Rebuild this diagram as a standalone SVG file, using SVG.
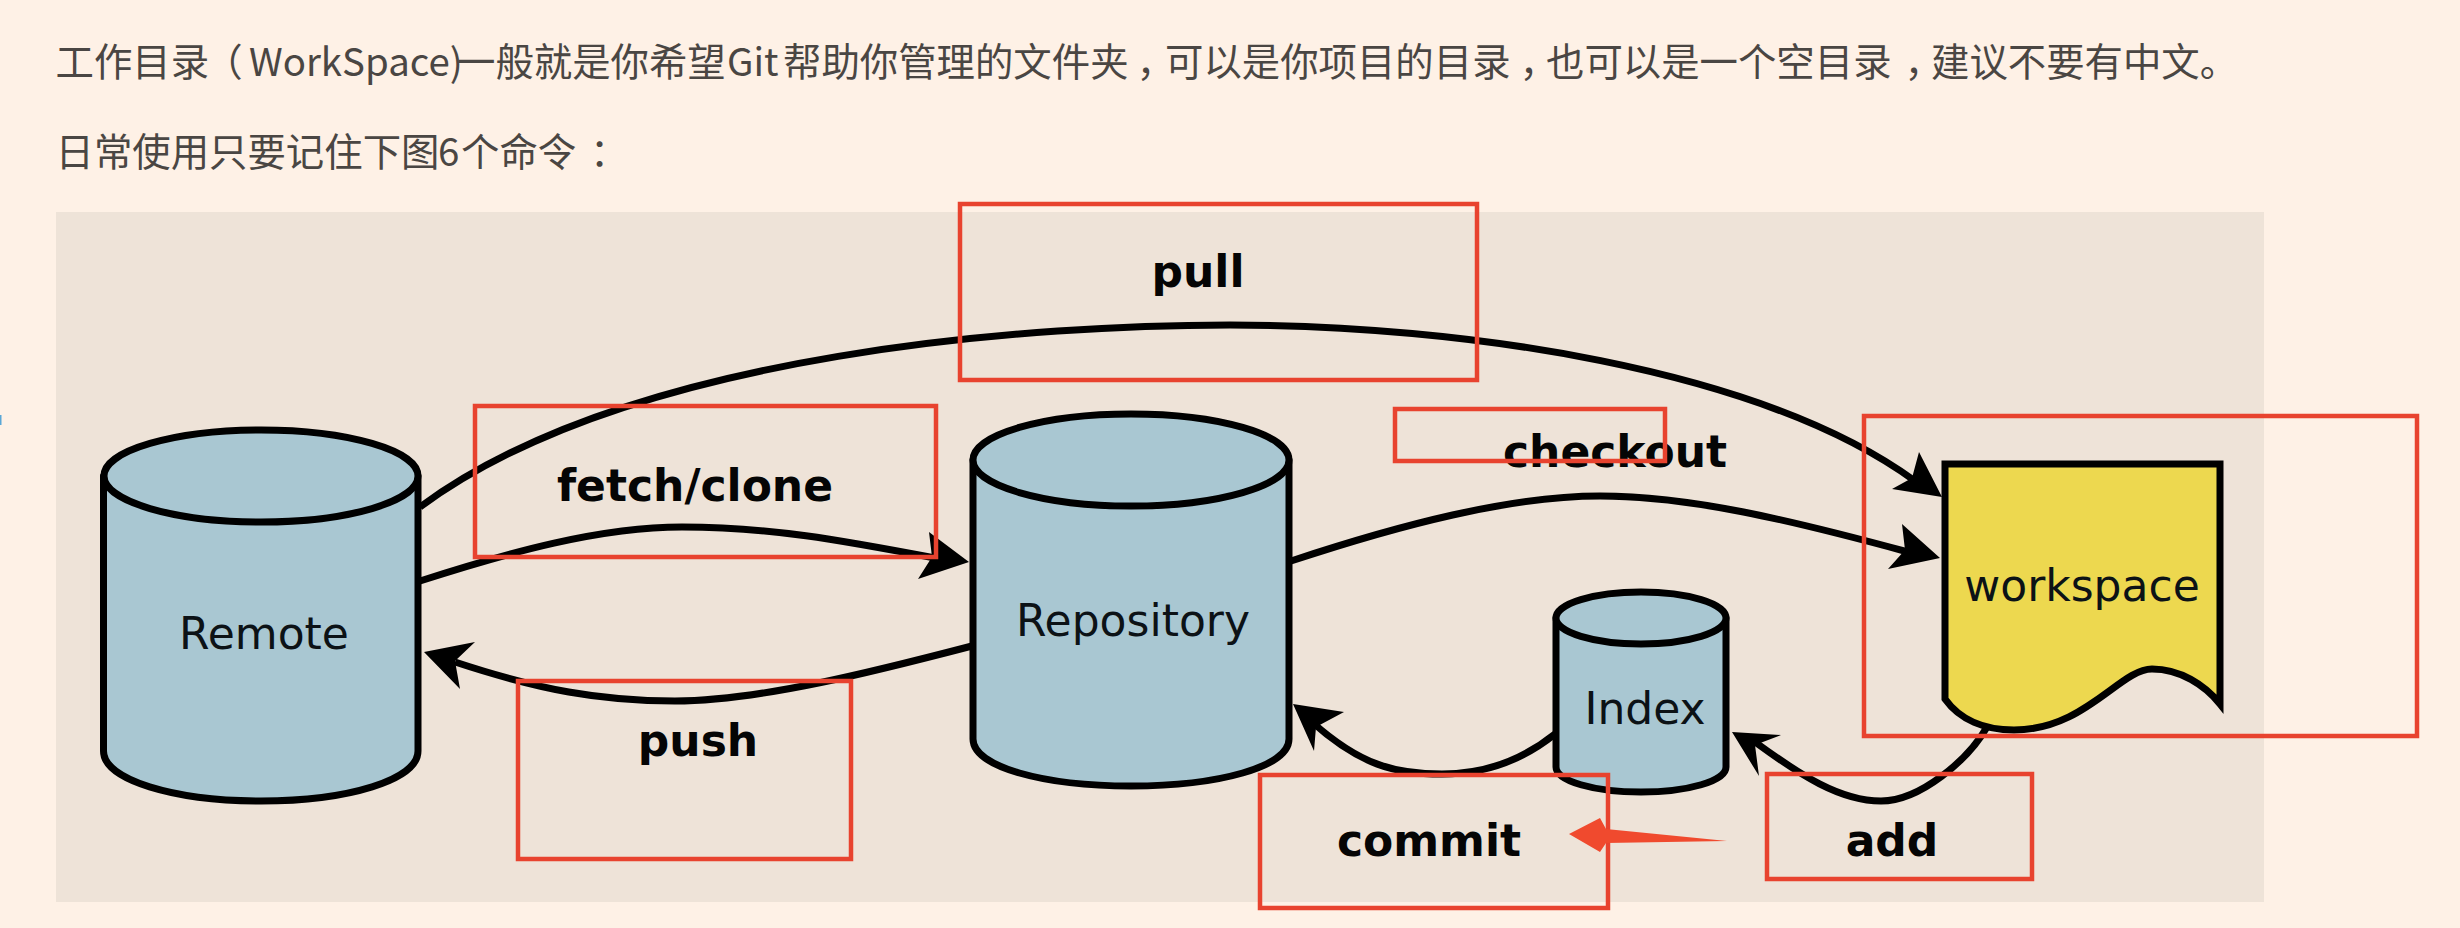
<svg xmlns="http://www.w3.org/2000/svg" width="2460" height="928" viewBox="0 0 2460 928">
<style>
.para{font-family:"Noto Sans CJK SC","Noto Sans",sans-serif;font-size:38.4px;fill:#4a4643}
.p{font-feature-settings:"palt"}
.lbl{font-family:"DejaVu Sans",sans-serif;font-size:44px;fill:#0c1216}
.cmd{font-family:"DejaVu Sans",sans-serif;font-size:44px;font-weight:700;fill:#050505}
.body{fill:#a9c7d2;stroke:#000;stroke-width:7;stroke-linejoin:round}
.wire{fill:none;stroke:#000;stroke-width:7;stroke-linecap:butt}
.head{fill:#000;stroke:none}
.mark{fill:none;stroke:#e8432f;stroke-width:4.500}
</style>
<rect width="2460" height="928" fill="#fef1e6"/>
<rect x="56" y="212" width="2208" height="690" fill="#eee3d8"/>
<path d="M0 415H1.500V425H0Z" fill="#5aa7d6"/>
<text class="para" y="76"><tspan x="55.500">工作目录</tspan><tspan class="p" x="222">（</tspan><tspan x="249">WorkSpace)</tspan><tspan x="457">一般就是你希望</tspan><tspan x="727">Git</tspan><tspan x="783">帮助你管理的文件夹</tspan><tspan class="p" x="1139">，</tspan><tspan x="1165">可以是你项目的目录</tspan><tspan class="p" x="1522">，</tspan><tspan x="1546">也可以是一个空目录</tspan><tspan class="p" x="1907">，</tspan><tspan x="1931">建议不要有中文。</tspan></text>
<text class="para" y="166"><tspan x="55.500">日常使用只要记住下图</tspan><tspan x="438">6</tspan><tspan x="461">个命令</tspan><tspan class="p" x="590">：</tspan></text>
<g id="connectors">
<path class="wire" d="M420 507C635 348 1050 325 1230 325C1460 325 1760 368 1915 481"/>
<polygon class="head" points="1942,497 1919,452 1912,478 1892,489"/>
<path class="wire" d="M420 581C510 552 600 527 682 527C770 527 840 540 935 558"/>
<polygon class="head" points="969,562 929,532 932,557 918,579"/>
<path class="wire" d="M972 646C880 670 760 701 675 701C600 701 540 690 455 662"/>
<polygon class="head" points="424,652 475,642 455,661 460,689"/>
<path class="wire" d="M1291 561C1400 525 1510 496 1600 496C1690 496 1790 520 1908 552"/>
<polygon class="head" points="1940,558 1902,524 1905,550 1888,569"/>
<path class="wire" d="M1555 734C1520 762 1480 774 1442 774C1395 774 1360 765 1312 722"/>
<polygon class="head" points="1293,704 1344,712 1316,727 1314,751"/>
<path class="wire" d="M1987 727C1968 760 1920 801 1881 801C1840 801 1800 775 1755 742"/>
<polygon class="head" points="1732,732 1781,735 1755,745 1759,776"/>
</g>
<g id="node-remote">
<path class="body" d="M103.500 476V751C103.500 780 174 801 261 801C348 801 418 780 418 751V476Z"/>
<ellipse class="body" cx="261" cy="476" rx="157" ry="46"/>
<text class="lbl" x="264" y="649" text-anchor="middle">Remote</text>
</g>
<g id="node-repository">
<path class="body" d="M973 460V739C973 767 1044 786 1131 786C1218 786 1289 767 1289 739V460Z"/>
<ellipse class="body" cx="1131" cy="460" rx="158" ry="46"/>
<text class="lbl" x="1133" y="636" text-anchor="middle">Repository</text>
</g>
<g id="node-index">
<path class="body" d="M1556 618V767C1556 781 1594 792 1641 792C1688 792 1726 781 1726 767V618Z"/>
<ellipse class="body" cx="1641" cy="618" rx="85" ry="26"/>
<text class="lbl" x="1645" y="724" text-anchor="middle">Index</text>
</g>
<g id="node-workspace">
<path d="M1945 464H2220V704C2205 685 2180 669 2152 669C2120 669 2085 730 2014 730C1985 730 1960 720 1945 699Z" fill="#edd84f" stroke="#000" stroke-width="7" stroke-linejoin="miter"/>
<text class="lbl" x="2082" y="601" text-anchor="middle">workspace</text>
</g>
<text class="cmd" x="1198" y="287" text-anchor="middle">pull</text>
<text class="cmd" x="695" y="501" text-anchor="middle">fetch/clone</text>
<text class="cmd" x="1615" y="467" text-anchor="middle">checkout</text>
<text class="cmd" x="698" y="756" text-anchor="middle">push</text>
<text class="cmd" x="1429" y="856" text-anchor="middle">commit</text>
<text class="cmd" x="1892" y="856" text-anchor="middle">add</text>
<g id="annotations">
<rect class="mark" x="960" y="204" width="517" height="176"/>
<rect class="mark" x="475" y="406" width="461" height="151"/>
<rect class="mark" x="1395" y="409" width="270" height="52"/>
<rect class="mark" x="1864" y="416" width="553" height="320"/>
<rect class="mark" x="518" y="681" width="333" height="178"/>
<rect class="mark" x="1260" y="775" width="348" height="133"/>
<rect class="mark" x="1767" y="774" width="265" height="105"/>
<polygon points="1569,834 1600,818 1606,829 1727,841 1606,843 1600,852" fill="#f04a2e"/>
</g>
</svg>
